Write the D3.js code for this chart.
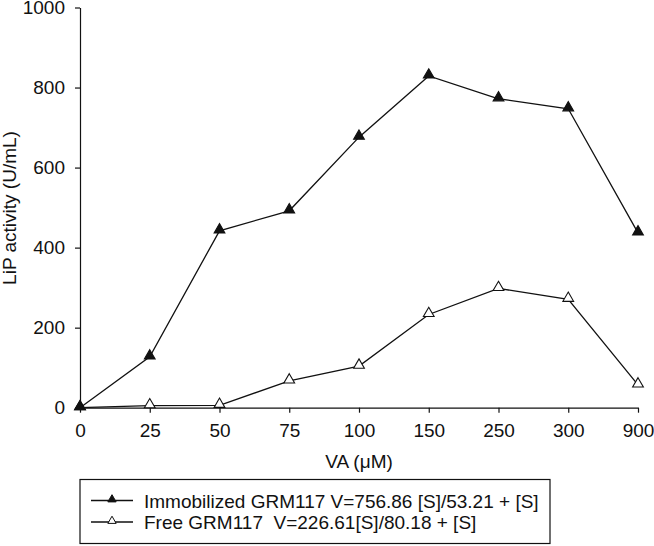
<!DOCTYPE html>
<html><head><meta charset="utf-8">
<script src="https://cdn.jsdelivr.net/npm/d3@7"></script>
<style>body{margin:0;background:#fff}svg{display:block}text{font-family:Arial,"Liberation Sans",sans-serif;fill:#111}</style>
</head><body>
<svg id="c" width="654" height="546"></svg>
<script>
const categories = ["0","25","50","75","100","150","250","300","900"];
const immobilized = [0,127,442,492,676,829,772,747,437];
const free = [0,5,6,67,104,233,298,271,57];
const yTicks = [0,200,400,600,800,1000];
const seriesNames = ["Immobilized GRM117 V=756.86 [S]/53.21 + [S]", "Free GRM117  V=226.61[S]/80.18 + [S]"];

const svg = d3.select("#c");
const x = d3.scalePoint().domain(categories).range([80,638]);
const y = d3.scaleLinear().domain([0,1000]).range([407.7,7.5]);

const xa = svg.append("g").attr("transform","translate(0,407.7)")
  .call(d3.axisBottom(x).tickSize(5).tickPadding(11).tickSizeOuter(0));
const ya = svg.append("g").attr("transform","translate(80,0)")
  .call(d3.axisLeft(y).tickValues(yTicks).tickFormat(d3.format("d")).tickSize(5).tickPadding(10).tickSizeOuter(0));
[xa,ya].forEach(a=>{a.selectAll("text").style("font-size","19px").attr("fill","#111");
  a.selectAll("line,path").attr("stroke","#111").attr("stroke-width",1.2);});

svg.append("text").attr("x",359).attr("y",468).attr("text-anchor","middle").style("font-size","19px").text("VA (μM)");
svg.append("text").attr("transform","translate(16,208) rotate(-90)").attr("text-anchor","middle").style("font-size","19px").text("LiP activity (U/mL)");

const line = d3.line().x((d,i)=>x(categories[i])).y(d=>y(d));
const tri = d3.symbol().type(d3.symbolTriangle).size(50);
function drawSeries(vals, fill){
  svg.append("path").datum(vals).attr("d",line).attr("fill","none").attr("stroke","#111").attr("stroke-width",1.3);
  svg.append("g").selectAll("path").data(vals).join("path")
    .attr("transform",(d,i)=>`translate(${x(categories[i])},${y(d)-1})`)
    .attr("d",tri).attr("fill",fill).attr("stroke","#111").attr("stroke-width",1.1);
}
drawSeries(free,"#fff");
drawSeries(immobilized,"#111");

const lg = svg.append("g");
lg.append("rect").attr("x",80).attr("y",479.5).attr("width",470).attr("height",64).attr("fill","#fff").attr("stroke","#111").attr("stroke-width",1.2);
const fills = ["#111","#fff"];
const sm = d3.symbol().type(d3.symbolTriangle).size(30);
seriesNames.forEach((n,i)=>{
  const cy = 500.5 + i*21.5;
  lg.append("line").attr("x1",91).attr("x2",133).attr("y1",cy).attr("y2",cy).attr("stroke","#111").attr("stroke-width",1.3);
  lg.append("path").attr("d",sm).attr("transform",`translate(112,${cy-1})`).attr("fill",fills[i]).attr("stroke","#111").attr("stroke-width",1);
  lg.append("text").attr("x",144).attr("y",cy+7).style("font-size","19px").attr("xml:space","preserve").style("white-space","pre").text(n);
});
</script>
</body></html>
